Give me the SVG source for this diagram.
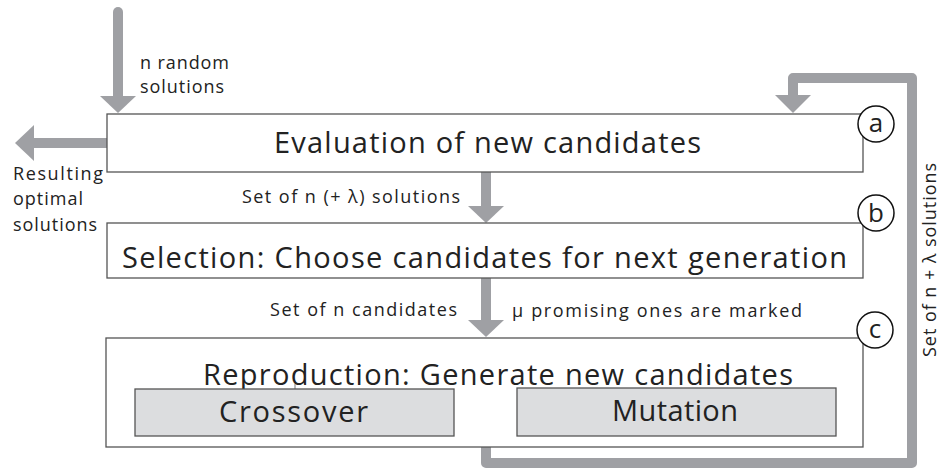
<svg xmlns="http://www.w3.org/2000/svg" width="942" height="468" viewBox="0 0 942 468">
  <style>
    .box { fill: #ffffff; stroke: #555555; stroke-width: 1.3; }
    .inner { fill: #dcdddf; stroke: #555555; stroke-width: 1.3; }
    .tag { fill: #ffffff; stroke: #111111; stroke-width: 1.5; }
    .flow { fill: none; stroke: #9fa0a4; stroke-width: 10; }
    .head { fill: #9fa0a4; }
    text { font-family: "Open Sans", "Noto Sans", "DejaVu Sans", sans-serif; fill: #222222; }
    .big { font-size: 29px; }
    .small { font-size: 18px; }
    .letter { font-size: 26px; text-anchor: middle; }
  </style>

  <!-- connectors -->
  <g id="connectors">
    <!-- initial population in -->
    <path class="flow" d="M118,12 V97" stroke-linecap="round"/>
    <polygon class="head" points="100,96 136,96 118,113"/>
    <!-- results out -->
    <path class="flow" d="M107,143 H33"/>
    <polygon class="head" points="34,125 34,161 15,143"/>
    <!-- evaluation to selection -->
    <path class="flow" d="M486,172 V207"/>
    <polygon class="head" points="468,206 504,206 486,223"/>
    <!-- selection to reproduction -->
    <path class="flow" d="M486,278 V321"/>
    <polygon class="head" points="468,320 504,320 486,337"/>
    <!-- feedback loop back to evaluation -->
    <path class="flow" d="M486,447 V463 H912 V78 H793 V96" stroke-linejoin="round"/>
    <polygon class="head" points="775,95 811,95 793,113"/>
  </g>

  <!-- connector labels -->
  <g id="labels">
    <text class="small" x="140" y="69" textLength="89">n random</text>
    <text class="small" x="140" y="93" textLength="84">solutions</text>
    <text class="small" x="13" y="180" textLength="90">Resulting</text>
    <text class="small" x="13" y="205" textLength="70">optimal</text>
    <text class="small" x="13" y="231" textLength="84">solutions</text>
    <text class="small" x="242" y="203" textLength="218">Set of n (+ λ) solutions</text>
    <text class="small" x="270" y="316" textLength="187">Set of n candidates</text>
    <text class="small" x="512" y="317" textLength="290">μ promising ones are marked</text>
    <text class="small" transform="translate(936,260) rotate(-90)" text-anchor="middle" textLength="194">Set of n + λ solutions</text>
  </g>

  <!-- (a) evaluation -->
  <g id="evaluation">
    <rect class="box" x="107" y="114" width="756" height="58"/>
    <text class="big" x="274" y="153" textLength="427">Evaluation of new candidates</text>
    <circle class="tag" cx="876" cy="124" r="18"/>
    <text class="letter" x="876" y="132">a</text>
  </g>

  <!-- (b) selection -->
  <g id="selection">
    <rect class="box" x="107" y="223" width="756" height="55"/>
    <text class="big" x="122" y="268" textLength="725">Selection: Choose candidates for next generation</text>
    <circle class="tag" cx="876" cy="213" r="18"/>
    <text class="letter" x="876" y="222">b</text>
  </g>

  <!-- (c) reproduction -->
  <g id="reproduction">
    <rect class="box" x="106" y="338" width="757" height="109"/>
    <text class="big" x="203" y="385" textLength="590">Reproduction: Generate new candidates</text>
    <line x1="295" y1="384" x2="295" y2="389" stroke="#777777" stroke-width="1"/>
    <circle class="tag" cx="875" cy="330" r="18"/>
    <text class="letter" x="875" y="338">c</text>
  </g>

  <g id="crossover">
    <rect class="inner" x="135" y="389" width="319" height="47"/>
    <text class="big" x="219" y="422" textLength="149">Crossover</text>
  </g>

  <g id="mutation">
    <rect class="inner" x="517" y="388" width="319" height="48"/>
    <text class="big" x="612" y="421" textLength="126">Mutation</text>
  </g>
</svg>
